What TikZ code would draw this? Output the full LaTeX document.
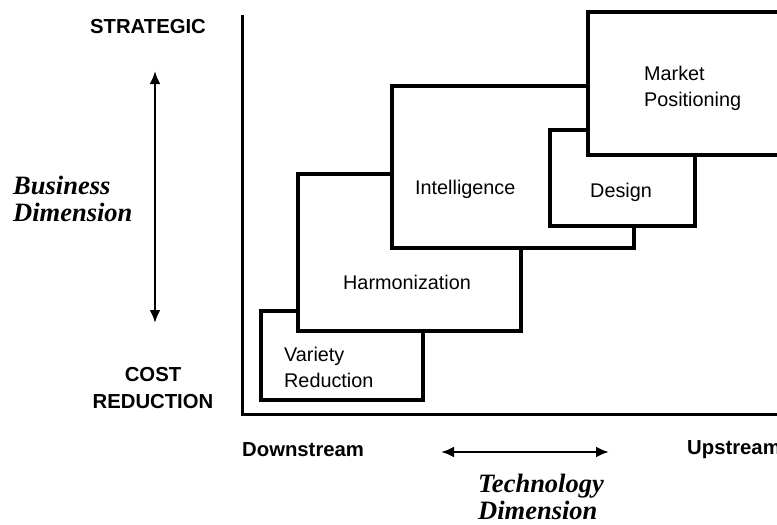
\documentclass[tikz,border=0pt]{standalone}
\usepackage{fontspec}
\setmainfont{Liberation Serif}
\setsansfont{Liberation Sans}
\usetikzlibrary{
  arrows.meta,
  positioning
}
\tikzset{>={Latex[length=13pt,width=11pt]}}
\tikzset{
  axislabel/.style={font=\sffamily\bfseries\fontsize{20.3}{27}\selectfont,
    align=center, inner sep=0pt},
  sidelabel/.style={font=\sffamily\bfseries\fontsize{20.3}{27}\selectfont,
    anchor=west, inner sep=0pt},
  boxlabel/.style={font=\sffamily\fontsize{19.8}{26}\selectfont,
    align=left, anchor=west, inner sep=0pt},
  dimlabel/.style={font=\rmfamily\bfseries\itshape\fontsize{26.5}{27.5}\selectfont,
    align=left, anchor=west, inner sep=0pt},
}

\begin{document}
\begin{tikzpicture}[x=1pt, y=-1pt]
    \useasboundingbox (0,0) rectangle (777,525);
    \clip (0,0) rectangle (777,525);
    % axes
    \draw[line width=3pt] (242,15) -- (242,414) -- (800,414);
    % steps, drawn bottom-left first so later ones sit on top
    \begin{scope}[line width=3.4pt]
      \foreach \xa/\ya/\xb/\yb in {261/311/423/400, 298/174/521/331,
        392/86/634/248, 550/130/695/226, 588/12/800/155}
      {
        \draw[fill=white] (\xa,\ya) rectangle (\xb,\yb);
      }
    \end{scope}
    \node[boxlabel] (variety) at (284,367) {Variety\\Reduction};
    \node[boxlabel] (harmon) at (343,282) {Harmonization};
    \node[boxlabel] (intel) at (415,189) {Intelligence};
    \node[boxlabel] (design) at (590,192) {Design};
    \node[boxlabel, text depth=0pt] (market) at (644,86) {Market\\Positioning};
    % business dimension
    \node[axislabel] (strat) at (148,27) {STRATEGIC};
    \node[axislabel] (cost) at (153,388) {COST\\REDUCTION};
    \node[dimlabel] (bizdim) at (13,199) {Business\\Dimension};
    \coordinate (bizup) at (155,71);
    \coordinate (bizdown) at (155,323);
    \draw[<->, line width=2.5pt] (bizup) -- (bizdown);
    % technology dimension
    \node[sidelabel] (down) at (242,450) {Downstream};
    \node[sidelabel] (up) at (687,450) {Upstream};
    \node[dimlabel] (techdim) at (478,497) {Technology\\Dimension};
    \coordinate (techleft) at (441,452);
    \coordinate (techright) at (609,452);
    \draw[<->, line width=2.5pt] (techleft) -- (techright);
\end{tikzpicture}
\end{document}
